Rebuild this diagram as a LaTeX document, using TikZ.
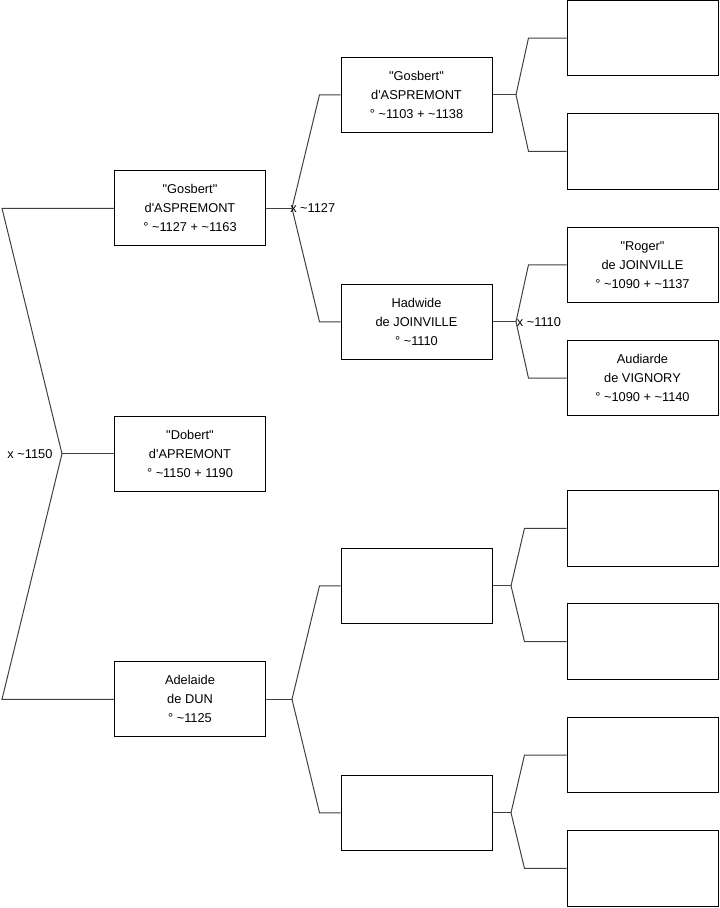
\documentclass[tikz,border=0pt]{standalone}
\usepackage{fontspec}
\setmainfont{Liberation Sans}
\usetikzlibrary{positioning}
\newcommand{\abt}{\textasciitilde}
\newcommand{\apos}{\textquotesingle}
\newcommand{\qu}[1]{\textquotedbl #1\textquotedbl}
\tikzset{
  pers/.style ={draw, line width=0.75pt, align=center, inner sep=2pt,
                minimum width=113.25pt, minimum height=56.6pt,
                font=\fontsize{9.6}{14.25}\selectfont},
  link/.style ={draw=black!75, line width=0.75pt},
  marr/.style ={font=\fontsize{9.6}{12}\selectfont, inner sep=0pt},
}

\begin{document}
\begin{tikzpicture}[x=0.75pt, y=-0.75pt,
    node distance=27.7pt and 56.5pt,
  ]
  \useasboundingbox (0,0) rectangle (719,908);

  % great-grandparents
  \node[pers]                         (q1) at (642.5,38) {};
  \node[pers, below=of q1]            (q2) {};
  \node[pers, below=of q2]            (roger) {\qu{Roger}\\de JOINVILLE\\° \abt 1090 + \abt 1137};
  \node[pers, below=of roger]         (audi) {Audiarde\\de VIGNORY\\° \abt 1090 + \abt 1140};
  \node[pers, below=55.2pt of audi]   (q5) {};
  \node[pers, below=of q5]            (q6) {};
  \node[pers, below=of q6]            (q7) {};
  \node[pers, below=of q7]            (q8) {};

  % grandparents
  \node[pers] (gos2) at (416.5,94.75)  {\qu{Gosbert}\\d\apos ASPREMONT\\° \abt 1103 + \abt 1138};
  \node[pers] (hadw) at (416.5,321.75) {Hadwide\\de JOINVILLE\\° \abt 1110};
  \node[pers] (e1)   at (416.5,585.75) {};
  \node[pers] (e2)   at (416.5,812.75) {};

  % parents
  \node[pers] (gos1) at (190,208.25) {\qu{Gosbert}\\d\apos ASPREMONT\\° \abt 1127 + \abt 1163};
  \node[pers] (adel) at (190,699.25) {Adelaide\\de DUN\\° \abt 1125};

  % subject
  \node[pers] (dob)  at (190,453.75) {\qu{Dobert}\\d\apos APREMONT\\° \abt 1150 + 1190};

  % forks
  \draw[link] (dob.west) -- ++(-52,0) coordinate (v1150);
  \draw[link] (gos1.west) -- ++(-112,0) -- (v1150);
  \draw[link] (adel.west) -- ++(-112,0) -- (v1150);
  \node[marr, anchor=east] (m1150) at ([xshift=-7]v1150) {x \abt 1150};

  \draw[link] (gos1.east) -- ++(26,0) coordinate (v1127);
  \draw[link] (gos2.west) -- ++(-21,0) -- (v1127);
  \draw[link] (hadw.west) -- ++(-21,0) -- (v1127);
  \node[marr, anchor=west] (m1127) at ([xshift=-1.5]v1127) {x \abt 1127};

  \draw[link] (adel.east) -- ++(26,0) coordinate (vdun);
  \draw[link] (e1.west) -- ++(-21,0) -- (vdun);
  \draw[link] (e2.west) -- ++(-21,0) -- (vdun);

  \draw[link] (gos2.east) -- ++(23.5,0) coordinate (v1103);
  \draw[link] (q1.west) -- ++(-38,0) -- (v1103);
  \draw[link] (q2.west) -- ++(-38,0) -- (v1103);

  \draw[link] (hadw.east) -- ++(23.5,0) coordinate (v1110);
  \draw[link] (roger.west) -- ++(-38,0) -- (v1110);
  \draw[link] (audi.west) -- ++(-38,0) -- (v1110);
  \node[marr, anchor=west] (m1110) at ([xshift=0.5]v1110) {x \abt 1110};

  \draw[link] (e1.east) -- ++(18.5,0) coordinate (ve1);
  \draw[link] (q5.west) -- ++(-42,0) -- (ve1);
  \draw[link] (q6.west) -- ++(-42,0) -- (ve1);

  \draw[link] (e2.east) -- ++(18.5,0) coordinate (ve2);
  \draw[link] (q7.west) -- ++(-42,0) -- (ve2);
  \draw[link] (q8.west) -- ++(-42,0) -- (ve2);
\end{tikzpicture}
\end{document}
